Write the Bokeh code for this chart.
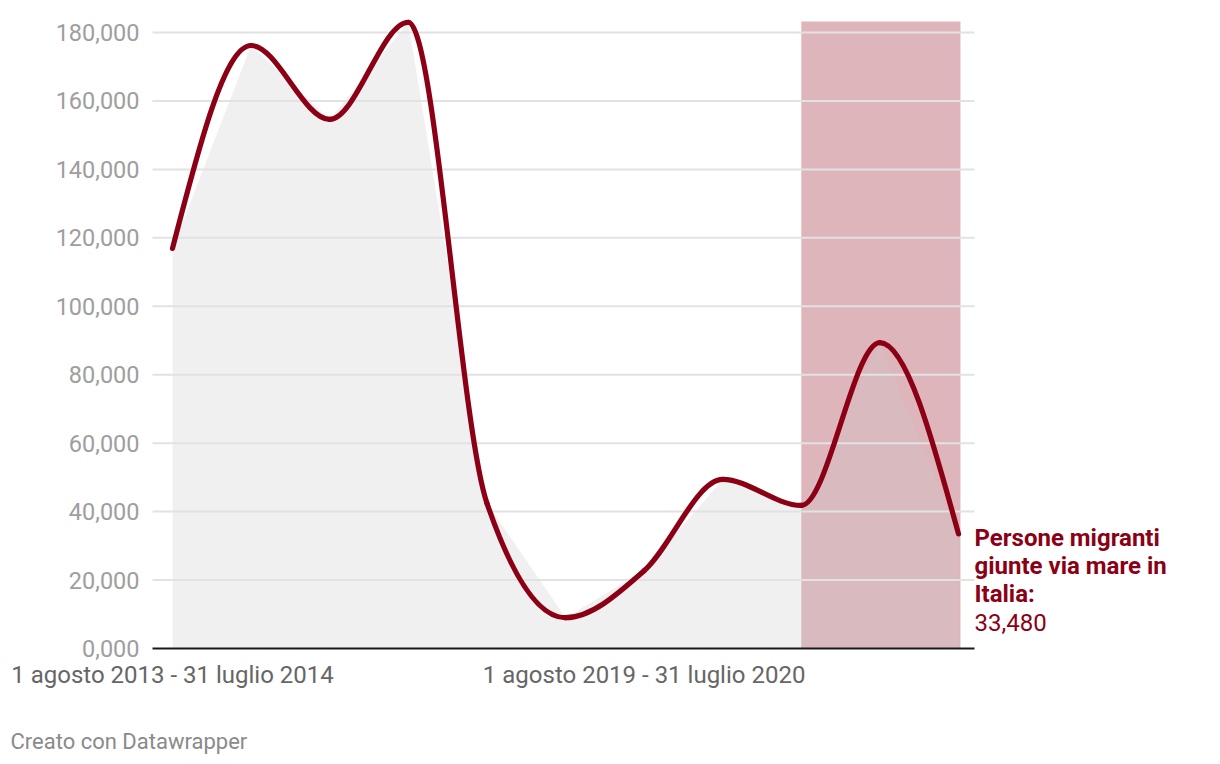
import numpy as np
from bokeh.plotting import figure
from bokeh.models import Range1d, Label
from bokeh.embed import file_html
from bokeh.resources import INLINE

# ---- data -------------------------------------------------------------
periods = [
    "1 agosto 2013 - 31 luglio 2014",
    "1 agosto 2014 - 31 luglio 2015",
    "1 agosto 2015 - 31 luglio 2016",
    "1 agosto 2016 - 31 luglio 2017",
    "1 agosto 2017 - 31 luglio 2018",
    "1 agosto 2018 - 31 luglio 2019",
    "1 agosto 2019 - 31 luglio 2020",
    "1 agosto 2020 - 31 luglio 2021",
    "1 agosto 2021 - 31 luglio 2022",
    "1 agosto 2022 - 31 luglio 2023",
    "1 agosto 2023 - 31 luglio 2024",
]
arrivals = [116900, 176200, 154600, 183000, 42500, 9000, 22700, 49400, 41800, 89400, 33480]
highlight = ["1 agosto 2021 - 31 luglio 2022", "1 agosto 2023 - 31 luglio 2024"]
x_tick_labels = ["1 agosto 2013 - 31 luglio 2014", "1 agosto 2019 - 31 luglio 2020"]
y_ticks = [0, 20000, 40000, 60000, 80000, 100000, 120000, 140000, 160000, 180000]
y_tick_labels = ["0,000", "20,000", "40,000", "60,000", "80,000", "100,000",
                 "120,000", "140,000", "160,000", "180,000"]
series_label = ["Persone migranti", "giunte via mare in", "Italia:"]
footer = "Creato con Datawrapper"

RED = "#8c0016"
FONT = "Roboto"

xs = np.arange(len(periods), dtype=float)
ys = np.array(arrivals, dtype=float)

# ---- monotone-X cubic (d3 curveMonotoneX) control points ---------------
def monotone_tangents(x, y):
    n = len(x)
    h = np.diff(x)
    s = np.diff(y) / h
    t = np.zeros(n)
    for i in range(1, n - 1):
        s0, s1 = s[i - 1], s[i]
        p = (s0 * h[i] + s1 * h[i - 1]) / (h[i - 1] + h[i])
        t[i] = (np.sign(s0) + np.sign(s1)) * min(abs(s0), abs(s1), 0.5 * abs(p))
    t[0] = (3 * s[0] - t[1]) / 2
    t[-1] = (3 * s[-1] - t[-2]) / 2
    return t

t = monotone_tangents(xs, ys)
dx = np.diff(xs) / 3.0
bx0, by0 = xs[:-1], ys[:-1]
bx1, by1 = xs[1:], ys[1:]
cx0, cy0 = bx0 + dx, by0 + dx * t[:-1]
cx1, cy1 = bx1 - dx, by1 - dx * t[1:]

# ---- layout: the frame covers the whole canvas --------------------------
W, H = 1220, 764
body_left, body_right, body_top, body_bottom = 152, 974, 21, 648   # pixels
x_lo, x_hi = -0.2545, 10.2036          # data extent of chart body
ppx = (body_right - body_left) / (x_hi - x_lo)
ppy = 616 / 180000                      # pixels per unit on y
x_start = x_lo - body_left / ppx
x_end = x_start + W / ppx
y_start = -(H - body_bottom) / ppy
y_end = body_bottom / ppy
y_top = (body_bottom - body_top) / ppy

p = figure(
    width=W, height=H,
    x_range=Range1d(x_start, x_end),
    y_range=Range1d(y_start, y_end),
    x_axis_type=None, y_axis_type=None,
    output_backend="svg", toolbar_location=None,
    min_border=0, min_border_left=0, min_border_right=0,
    min_border_top=0, min_border_bottom=0,
    outline_line_color=None,
    background_fill_color="white", border_fill_color="white",
)
p.xgrid.visible = False
p.ygrid.visible = False

# highlight band
i0 = periods.index(highlight[0])
i1 = periods.index(highlight[1])
p.quad(left=[xs[i0]], right=[xs[i1] + 0.025], bottom=[0], top=[y_top],
       fill_color=RED, fill_alpha=0.29, line_color=None, level="underlay")

# grey linear area
p.varea(x=xs, y1=np.zeros_like(ys), y2=ys, fill_color="#c8c8c8", fill_alpha=0.28,
        level="underlay")

# horizontal grid lines (over band/area, under the line)
gy = [v for v in y_ticks if v > 0]
p.segment(x0=[x_lo] * len(gy), x1=[x_hi] * len(gy), y0=gy, y1=gy,
          line_color="#e2e2e2", line_width=2, level="glyph")

# x axis baseline
p.segment(x0=[x_lo], x1=[x_hi], y0=[0], y1=[0],
          line_color="#1a1a1a", line_width=2, level="glyph")

# smooth line
p.bezier(x0=bx0, y0=by0, x1=bx1, y1=by1, cx0=cx0, cy0=cy0, cx1=cx1, cy1=cy1,
         line_color=RED, line_width=5.2, line_cap="round", level="annotation")

# y tick labels
for v, lab in zip(y_ticks, y_tick_labels):
    p.add_layout(Label(x=x_lo, y=v, x_offset=-13, text=lab, text_font=FONT,
                       text_font_size="23.5px", text_color="#9e9e9e",
                       text_align="right", text_baseline="middle"))

# x tick labels
for lab in x_tick_labels:
    p.add_layout(Label(x=xs[periods.index(lab)], y=0, y_offset=-26, text=lab,
                       text_font=FONT, text_font_size="24px", text_color="#666666",
                       text_align="center", text_baseline="middle"))

# end label
last_x, last_y = xs[-1], ys[-1]
for k, line in enumerate(series_label):
    p.add_layout(Label(x=last_x, y=last_y, x_offset=16, y_offset=-4.5 - 28 * k,
                       text=line, text_font=FONT, text_font_style="bold",
                       text_font_size="24px", text_color=RED,
                       text_baseline="alphabetic", text_align="left"))
p.add_layout(Label(x=last_x, y=last_y, x_offset=16, y_offset=-4.5 - 28 * 3,
                   text=f"{arrivals[-1]:,}", text_font=FONT,
                   text_font_size="24px", text_color=RED,
                   text_baseline="alphabetic", text_align="left"))

# footer
p.add_layout(Label(x=10, y=23, x_units="screen", y_units="screen", text=footer,
                   text_font=FONT, text_font_size="22px", text_color="#8a8a8a",
                   text_baseline="middle", text_align="left"))

open("out.html", "w").write(file_html(p, INLINE))
